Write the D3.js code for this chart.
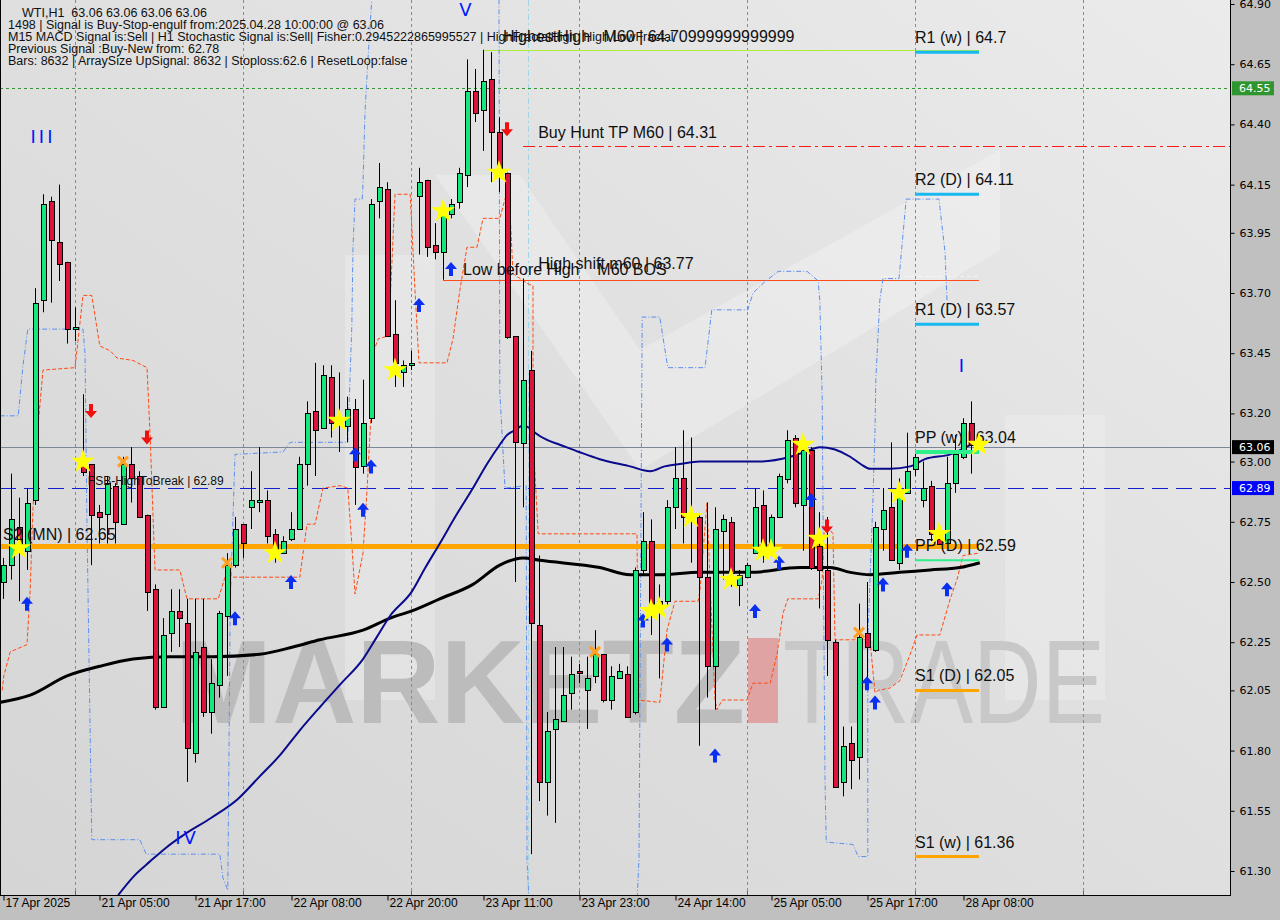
<!DOCTYPE html>
<html><head><meta charset="utf-8">
<script src="https://cdn.jsdelivr.net/npm/d3@7/dist/d3.min.js"></script>
<style>body{margin:0;background:#c0c0c0;}svg{display:block}text{white-space:pre}</style>
</head><body><svg id="c" width="1280" height="920"></svg>
<script>
// ---------------- DATA ----------------
const opens  = [62.50,62.57,62.73,62.63,62.84,63.67,64.08,63.91,63.83,63.55,63.00,62.99,62.79,62.78,62.90,62.74,62.99,62.94,62.78,62.47,61.98,62.29,62.38,62.33,61.79,62.23,61.96,62.07,62.36,62.57,62.74,62.81,62.83,62.84,62.70,62.62,62.68,62.72,62.99,63.21,63.14,63.35,63.16,63.15,63.22,62.98,63.18,64.08,64.13,63.53,63.37,63.40,64.10,64.17,63.90,63.87,64.03,64.08,64.19,64.54,64.46,64.59,64.37,64.20,63.52,63.08,63.38,62.32,61.67,61.89,61.92,62.04,62.13,62.05,62.11,62.20,62.01,62.10,62.12,61.96,62.55,62.67,62.39,62.42,62.81,62.93,62.77,62.77,62.52,62.15,62.71,62.75,62.49,62.52,62.62,62.82,62.62,62.77,62.93,63.10,62.82,63.05,62.65,62.55,62.25,61.67,61.83,61.77,62.29,62.22,62.72,62.81,62.58,62.87,62.97,62.84,62.90,62.68,62.66,62.91,63.02,63.16,63.06];
const highs  = [62.60,62.95,62.85,62.89,63.72,64.11,64.10,64.15,63.83,63.64,63.28,62.99,62.82,62.94,62.91,63.02,63.06,62.96,62.78,62.49,62.35,62.47,62.47,62.43,62.43,62.43,62.18,62.38,62.62,62.77,62.74,62.96,63.06,62.88,62.72,62.69,62.79,63.02,63.25,63.41,63.40,63.40,63.37,63.27,63.26,63.34,64.09,64.24,64.16,63.67,63.42,63.46,64.22,64.17,63.99,64.04,64.09,64.22,64.67,64.63,64.71,64.70,64.43,64.20,63.52,63.76,63.46,62.61,61.96,62.23,62.23,62.19,62.16,62.19,62.30,62.20,62.15,62.16,62.15,62.56,62.79,62.76,62.49,62.84,63.06,63.13,63.10,62.78,62.83,62.81,62.78,62.77,62.55,62.58,62.89,62.88,62.78,62.95,63.13,63.11,63.08,63.06,62.79,62.77,62.26,61.90,61.90,62.41,62.50,62.75,62.89,63.08,62.93,63.12,63.05,63.00,62.92,62.74,63.02,63.11,63.18,63.25,63.06];
const lows   = [62.43,62.51,62.42,62.55,62.82,63.62,63.66,63.75,63.49,63.50,62.94,62.57,62.66,62.66,62.66,62.74,62.83,62.77,62.38,61.97,61.98,62.21,62.23,61.67,61.75,61.94,61.87,62.02,62.11,62.56,62.60,62.72,62.79,62.66,62.58,62.62,62.67,62.72,62.90,62.94,63.14,63.10,63.04,63.08,62.82,62.95,63.16,64.01,63.52,63.31,63.31,63.38,63.86,63.85,63.84,63.77,64.01,64.05,64.14,64.41,64.29,64.16,64.12,63.51,62.50,62.81,61.37,61.59,61.53,61.50,61.92,61.97,62.08,61.89,62.08,62.00,61.97,62.10,61.94,61.95,62.53,62.28,62.10,62.40,62.72,62.66,62.58,61.82,62.02,61.97,62.51,62.48,62.40,62.52,62.62,62.58,62.61,62.77,62.91,62.81,62.63,62.55,62.39,62.11,61.65,61.61,61.64,61.68,62.08,62.21,62.63,62.59,62.55,62.87,62.94,62.81,62.67,62.66,62.66,62.87,63.01,62.95,63.06];
const closes = [62.57,62.76,62.65,62.83,63.66,64.07,63.92,63.82,63.55,63.56,62.96,62.78,62.77,62.91,62.75,62.99,62.93,62.77,62.46,61.98,62.28,62.38,62.35,61.81,62.21,61.96,62.08,62.37,62.57,62.72,62.66,62.84,62.84,62.69,62.63,62.67,62.72,62.99,63.20,63.13,63.36,63.16,63.17,63.22,62.98,63.16,64.07,64.14,63.52,63.41,63.40,63.41,64.16,63.89,63.87,64.04,64.07,64.20,64.54,64.45,64.58,64.37,64.20,63.52,63.08,63.34,62.33,61.67,61.88,61.93,62.03,62.12,62.12,62.10,62.20,62.01,62.11,62.13,61.94,62.55,62.67,62.40,62.42,62.81,62.93,62.77,62.78,62.52,62.15,62.72,62.76,62.54,62.53,62.57,62.81,62.62,62.77,62.94,63.09,62.83,63.05,62.56,62.55,62.26,61.65,61.82,61.76,62.27,62.23,62.73,62.80,62.59,62.87,62.96,63.02,62.89,62.70,62.66,62.91,63.03,63.16,63.07,63.06];

// moving averages [barIndex, price]
const maBlue = [[14.4,61.20],[16.4,61.28],[18.4,61.34],[20.5,61.40],[22.6,61.45],[26,61.52],[29.4,61.60],[32,61.69],[34.6,61.78],[37,61.88],[39.6,61.98],[42.3,62.08],[45,62.18],[46.7,62.27],[48.4,62.36],[51.1,62.46],[52.8,62.56],[54.6,62.66],[56.7,62.78],[58.75,62.89],[60.5,62.99],[62.1,63.07],[63,63.11],[64,63.13],[65,63.15],[65.8,63.14],[66.5,63.12],[68,63.09],[69.6,63.07],[72,63.04],[74.6,63.01],[78.4,62.98],[80.9,62.96],[82.7,62.98],[84.6,62.99],[87.1,63.00],[90.9,63.00],[94.6,63.00],[98.4,63.02],[100.25,63.04],[102.1,63.06],[104,63.05],[105.9,63.02],[107.2,62.99],[108.4,62.97],[110.9,62.97],[113.4,62.98],[115.25,63.01],[118.4,63.03],[121.5,63.08]];
const maBlack = [[-0.4,62.00],[3.4,62.03],[8,62.11],[12.1,62.15],[16.25,62.18],[20.9,62.19],[26.25,62.19],[32.1,62.20],[36.25,62.23],[39.6,62.26],[45,62.30],[48.4,62.35],[51.1,62.38],[54.6,62.43],[58.75,62.49],[62.1,62.57],[65,62.60],[67.1,62.59],[74.6,62.56],[78.4,62.53],[82.1,62.53],[87.1,62.54],[93.4,62.54],[99.6,62.56],[103.4,62.56],[105.9,62.54],[108.4,62.53],[112.1,62.54],[115.9,62.55],[119.6,62.56],[122.1,62.58]];
// channel bands [barIndex, price]
const bandLow = [[-0.1,62.05],[0.1,62.11],[0.9,62.21],[3,62.24],[3.4,62.47],[3.75,62.81],[4.25,63.10],[5,63.38],[9,63.39],[10,63.69],[11.1,63.69],[12.1,63.48],[13.4,63.46],[14.25,63.43],[16.25,63.42],[18,63.39],[18.4,63.10],[19,62.55],[22.1,62.55],[23,62.43],[26.9,62.43],[27.75,62.52],[37.1,62.52],[38,62.74],[39,62.74],[40,62.89],[42.1,62.90],[43.1,62.89],[43.6,62.66],[44,62.45],[45,62.62],[45.5,62.88],[45.9,63.13],[46.25,63.45],[46.9,63.51],[48,63.52],[48.4,63.67],[49,64.11],[50.9,64.11],[51.5,63.71],[52,63.41],[55.5,63.41],[56.25,63.51],[57.1,63.71],[58,63.89],[59.25,63.89],[60,64.01],[62.1,64.01],[63,64.12],[63.4,64.02],[63.75,63.78],[65.5,63.74],[66.25,63.73],[66.25,63.10],[66.9,62.70],[79.25,62.70],[79.4,62.01],[82.1,62.00],[83,62.30],[84,62.42],[86.9,62.42],[87.1,62.46],[88,62.83],[88.4,62.48],[89,62.01],[89.25,61.97],[89.9,62.01],[93,62.01],[93.75,62.08],[95.9,62.08],[96.75,62.20],[97.5,62.37],[98.1,62.43],[101.9,62.43],[102.4,62.51],[102.5,62.67],[102.75,62.73],[103.1,62.73],[103.75,62.70],[104,62.26],[108,62.26],[108.4,62.25],[109,62.04],[109.4,62.05],[110.9,62.06],[112.1,62.09],[113.4,62.20],[114.25,62.28],[117.1,62.28],[118.4,62.43],[119.25,62.51],[120,62.61],[122,62.62]];
const bandHigh = [[-0.4,63.19],[1.9,63.19],[2.5,63.40],[3.1,63.55],[10,63.55],[10.25,63.45],[10.5,62.73],[10.9,61.86],[11.1,61.43],[17.1,61.43],[17.9,61.37],[27.1,61.37],[27.5,61.27],[28.1,61.22],[28.4,62.40],[29,63.03],[35,63.04],[35.9,63.08],[43.1,63.08],[43.6,63.56],[43.75,63.89],[44,64.09],[44.9,64.09],[45,64.15],[45.25,64.45],[45.6,64.66],[46.1,64.92],[47.1,65.08],[60.9,65.08],[62,64.92],[62.1,63.29],[62.75,62.89],[65.4,62.90],[65.5,61.35],[65.9,61.06],[79.1,61.06],[79.5,61.35],[79.9,63.60],[82.1,63.60],[83.1,63.39],[87.75,63.39],[88.6,63.63],[93.1,63.63],[93.75,63.70],[95,63.74],[96.9,63.79],[100.5,63.79],[101.9,63.75],[102.1,63.67],[102.4,63.26],[102.75,61.68],[102.9,61.42],[106.25,61.41],[106.9,61.36],[108.1,61.36],[108.1,62.26],[108.75,62.85],[109,63.13],[109.1,63.34],[109.6,63.67],[110,63.76],[112,63.76],[112.9,64.09],[117,64.09],[117.75,63.87],[118,63.67]];

// signal markers [barIndex, price]
const upArrows   = [[3,62.41],[29,62.35],[36,62.50],[44,63.03],[45,62.80],[46,62.98],[52,63.65],[56,63.80],[80,62.34],[83,62.24],[89,61.78],[94,62.38],[97,62.58],[101,62.84],[108,62.08],[109,62.00],[110,62.49],[113,62.63],[118,62.47]];
const downArrows = [[11,63.21],[18,63.10],[63,64.38],[103,62.73]];
const stars      = [[2,62.64],[10,63.00],[34,62.62],[42,63.17],[49,63.38],[55,64.04],[62,64.20],[81,62.38],[82,62.39],[86,62.77],[91,62.51],[95,62.63],[96,62.63],[100,63.07],[102,62.68],[112,62.87],[117,62.70],[122,63.07]];
const crosses    = [[15,63.00],[28,62.58],[74,62.21],[107,62.29]];
const waveLabels = ["III","IV","V","I"];
const waveIdx    = [5,23,58,120];
const wavePrice  = [64.35,61.44,64.88,63.40];

// pivots
const pivotNames  = ["R1 (w)","R2 (D)","R1 (D)","PP (w)","PP (D)","S1 (D)","S1 (w)"];
const pivotValues = [64.7,64.11,63.57,63.04,62.59,62.05,61.36];
const pivotKinds  = ["res","res","res","pp","ppd","sup","sup"];

// levels
const s2mn = 62.65, fsbHigh = 62.89, lastPrice = 63.06, greenLevel = 64.55;
const highestHigh = 64.71, buyHuntTP = 64.31, lowBeforeHigh = 63.755, highShift = 63.77;

// axes
const yTicks = [64.90,64.65,64.40,64.15,63.95,63.70,63.45,63.20,63.00,62.75,62.50,62.25,62.05,61.80,61.55,61.30];
const xTickIdx = [0,12,24,36,48,60,72,84,96,108,120];
const xLabels = ["17 Apr 2025","21 Apr 05:00","21 Apr 17:00","22 Apr 08:00","22 Apr 20:00","23 Apr 11:00","23 Apr 23:00","24 Apr 14:00","25 Apr 05:00","25 Apr 17:00","28 Apr 08:00"];
const gridIdx = [9,30,51,72,93,114,135];

const infoLines = [
  "WTI,H1  63.06 63.06 63.06 63.06",
  "1498 | Signal is Buy-Stop-engulf from:2025.04.28 10:00:00 @ 63.06",
  "M15 MACD Signal is:Sell | H1 Stochastic Signal is:Sell| Fisher:0.2945222865995527 | HighFractalHigh  High LowFractal",
  "Previous Signal :Buy-New from: 62.78",
  "Bars: 8632 | ArraySize UpSignal: 8632 | Stoploss:62.6 | ResetLoop:false"
];

// ---------------- DRAW ----------------
const W = 1280, H = 920, PR = 1230, PB = 895;
const svg = d3.select("#c");
const xs = d3.scaleLinear().domain([0, 100]).range([3, 803]);
const ys = d3.scaleLinear().domain([61.30, 64.90]).range([871, 4]);
const FONT = "'Liberation Sans', Arial, sans-serif";

const defs = svg.append("defs");
defs.append("clipPath").attr("id","clip").append("rect").attr("x",0).attr("y",0).attr("width",PR).attr("height",PB);
const gr = defs.append("linearGradient").attr("id","bg").attr("x1","0").attr("y1","1").attr("x2","1").attr("y2","0");
gr.append("stop").attr("offset","0").attr("stop-color","#d5d5d5");
gr.append("stop").attr("offset","0.5").attr("stop-color","#dfdfdf");
gr.append("stop").attr("offset","1").attr("stop-color","#ebebeb");

svg.append("rect").attr("width",W).attr("height",H).attr("fill","#c0c0c0");
svg.append("rect").attr("x",0).attr("y",0).attr("width",PR).attr("height",PB).attr("fill","url(#bg)");

const plot = svg.append("g").attr("clip-path","url(#clip)");

// watermark logo
const wm = plot.append("g");
wm.append("path").attr("d","M345,700 L345,255 L435,255 L435,700 Z").attr("fill","#ffffff").attr("opacity",0.22);
wm.append("path").attr("d","M435,175 L520,175 L640,350 L1000,150 L1000,250 L640,470 Z").attr("fill","#ffffff").attr("opacity",0.25);
wm.append("path").attr("d","M1005,415 L1105,415 L1105,700 L1005,700 Z").attr("fill","#ffffff").attr("opacity",0.2);
wm.append("text").attr("x",175).attr("y",723).attr("textLength",570).attr("lengthAdjust","spacingAndGlyphs")
  .attr("font-family",FONT).attr("font-weight","bold").attr("font-size",118).attr("fill","#bcbcbc").text("MARKETZ");
wm.append("rect").attr("x",748).attr("y",638).attr("width",30).attr("height",85).attr("fill","#e0a3a3");
wm.append("text").attr("x",783).attr("y",723).attr("textLength",322).attr("lengthAdjust","spacingAndGlyphs")
  .attr("font-family",FONT).attr("font-size",118).attr("fill","#c8c8c8").text("TRADE");

// vertical grid
plot.selectAll("line.grid").data(gridIdx).join("line").attr("class","grid")
  .attr("x1",d=>Math.round(xs(d))+0.5).attr("x2",d=>Math.round(xs(d))+0.5).attr("y1",0).attr("y2",PB)
  .attr("stroke","#8a8a8a").attr("stroke-dasharray","3,3");

// light cyan vertical marker
plot.append("line").attr("x1",Math.round(xs(65.6))+0.5).attr("x2",Math.round(xs(65.6))+0.5).attr("y1",0).attr("y2",PB)
  .attr("stroke","#9fd6e6").attr("stroke-dasharray","6,3,2,3");

// horizontal levels
function hline(p, x1, x2, color, w, dash){
  const y = Math.round(ys(p)) + (w%2 ? 0.5 : 0);
  const l = plot.append("line").attr("x1",x1).attr("x2",x2).attr("y1",y).attr("y2",y)
    .attr("stroke",color).attr("stroke-width",w);
  if(dash) l.attr("stroke-dasharray",dash);
  return l;
}
hline(greenLevel, 0, PR, "#2e9a2e", 1, "3,3");
hline(highestHigh, xs(60), xs(122), "#a8f03a", 1);
hline(buyHuntTP, xs(65), PR, "#ff1a1a", 1, "12,4,3,4");
hline(highShift, xs(110), xs(122), "#f4f4f4", 1, "4,3");
hline(lowBeforeHigh, xs(55), xs(122), "#ff4a1a", 1);
plot.append("line").attr("x1",Math.round(xs(55))+0.5).attr("x2",Math.round(xs(55))+0.5)
  .attr("y1",ys(lowBeforeHigh)).attr("y2",ys(63.86)).attr("stroke","#000").attr("stroke-width",1);
hline(lastPrice, 0, PR, "#7a8796", 1);
hline(fsbHigh, 0, PR, "#1020d0", 1, "16,8");

// bands
const line = d3.line().x(d=>xs(d[0])).y(d=>ys(d[1]));
plot.append("path").attr("d",line(bandHigh)).attr("fill","none").attr("stroke","#5b8ff0").attr("stroke-width",1).attr("stroke-dasharray","5,2,1,2");
plot.append("path").attr("d",line(bandLow)).attr("fill","none").attr("stroke","#ff4a12").attr("stroke-width",1).attr("stroke-dasharray","4,2");

// S2 (MN) orange
hline(s2mn, 0, xs(122), "#ffa500", 5);

// MAs
const smooth = d3.line().x(d=>xs(d[0])).y(d=>ys(d[1])).curve(d3.curveMonotoneX);
plot.append("path").attr("d",smooth(maBlack)).attr("fill","none").attr("stroke","#000").attr("stroke-width",3);
plot.append("path").attr("d",smooth(maBlue)).attr("fill","none").attr("stroke","#0a0a8c").attr("stroke-width",2);

// candles
const idx = d3.range(opens.length);
const cg = plot.append("g");
cg.selectAll("line.wick").data(idx).join("line").attr("class","wick")
  .attr("x1",i=>Math.round(xs(i))+0.5).attr("x2",i=>Math.round(xs(i))+0.5)
  .attr("y1",i=>ys(highs[i])).attr("y2",i=>ys(lows[i])).attr("stroke","#000");
cg.selectAll("rect.body").data(idx).join("rect").attr("class","body")
  .attr("x",i=>Math.round(xs(i))-2+0.5).attr("width",5)
  .attr("y",i=>Math.round(ys(Math.max(opens[i],closes[i])))+0.5)
  .attr("height",i=>Math.max(1,Math.round(Math.abs(ys(opens[i])-ys(closes[i])))))
  .attr("fill",i=>closes[i]>=opens[i]?"#17e67a":"#dc143c").attr("stroke","#000").attr("stroke-width",1);

// pivots
const pivColor = {res:"#18b8f0", pp:"#2cf08a", ppd:"#2cf08a", sup:"#ffa500"};
const pivWidth = {res:3, pp:4, ppd:2, sup:3};
pivotValues.forEach((v,k)=>{
  const y = ys(v);
  plot.append("line").attr("x1",xs(114)).attr("x2",xs(122)).attr("y1",y).attr("y2",y)
    .attr("stroke",pivColor[pivotKinds[k]]).attr("stroke-width",pivWidth[pivotKinds[k]]);
  plot.append("text").attr("x",xs(114)).attr("y",y-9).attr("font-family",FONT).attr("font-size",16)
    .attr("fill","#101010").text(pivotNames[k]+" | "+v);
});

// markers
const upPath = "M0,-7 L6,0 L2,0 L2,7 L-2,7 L-2,0 L-6,0 Z";
const dnPath = "M0,7 L6,0 L2,0 L2,-7 L-2,-7 L-2,0 L-6,0 Z";
plot.selectAll("path.up").data(upArrows).join("path").attr("class","up").attr("d",upPath)
  .attr("transform",d=>`translate(${xs(d[0])},${ys(d[1])})`).attr("fill","#0a2ff0");
plot.selectAll("path.dn").data(downArrows).join("path").attr("class","dn").attr("d",dnPath)
  .attr("transform",d=>`translate(${xs(d[0])},${ys(d[1])})`).attr("fill","#f01010");
const starSym = d3.symbol().type(d3.symbolStar).size(180);
plot.selectAll("path.star").data(stars).join("path").attr("class","star").attr("d",starSym)
  .attr("transform",d=>`translate(${xs(d[0])},${ys(d[1])})`).attr("fill","#ffff00");
plot.selectAll("g.cross").data(crosses).join("g").attr("class","cross")
  .attr("transform",d=>`translate(${xs(d[0])},${ys(d[1])})`)
  .each(function(){
    const g = d3.select(this);
    g.append("line").attr("x1",-5).attr("y1",-5).attr("x2",5).attr("y2",5).attr("stroke","#ffa020").attr("stroke-width",3);
    g.append("line").attr("x1",-5).attr("y1",5).attr("x2",5).attr("y2",-5).attr("stroke","#ffa020").attr("stroke-width",3);
  });
waveLabels.forEach((t,k)=>{
  plot.append("text").attr("x",xs(waveIdx[k])).attr("y",ys(wavePrice[k])+7).attr("text-anchor","middle")
    .attr("font-family","'DejaVu Sans', sans-serif").attr("font-size",18).attr("letter-spacing",3)
    .attr("fill","#0018ff").text(t);
});

// annotation texts
const tx = (x,y,s,t,fill)=>plot.append("text").attr("x",x).attr("y",y).attr("font-family",FONT)
  .attr("font-size",s).attr("fill",fill||"#101010").text(t);
tx(xs(62.5), ys(highestHigh)-8, 16, "HighestHigh   M60 | 64.70999999999999");
tx(xs(66.9), ys(buyHuntTP)-8, 16, "Buy Hunt TP M60 | "+buyHuntTP);
tx(xs(66.9), ys(highShift)-7, 16, "High shift m60 | "+highShift);
tx(xs(57.5), ys(lowBeforeHigh)-5, 16, "Low before High    M60 BOS");
tx(xs(10.6), ys(fsbHigh)-3, 12, "FSB-HighToBreak | "+fsbHigh);
tx(xs(0), ys(s2mn)-6, 16, "S2 (MN) | "+s2mn);

// info text
infoLines.forEach((t,k)=>{
  svg.append("text").attr("x",k===0?22:8).attr("y",17+k*12.1).attr("font-family",FONT).attr("font-size",12.5)
    .attr("fill","#101010").text(t);
});

// frame
svg.append("line").attr("x1",PR+0.5).attr("x2",PR+0.5).attr("y1",0).attr("y2",PB+1).attr("stroke","#000");
svg.append("line").attr("x1",0).attr("x2",PR+1).attr("y1",PB+0.5).attr("y2",PB+0.5).attr("stroke","#000");
svg.append("line").attr("x1",0.5).attr("x2",0.5).attr("y1",0).attr("y2",PB).attr("stroke","#000");

// right axis
const ax = svg.append("g").attr("transform",`translate(${PR+0.5},0)`)
  .call(d3.axisRight(ys).tickValues(yTicks).tickSize(4).tickPadding(5).tickFormat(d3.format(".2f")));
ax.select(".domain").remove();
ax.selectAll("line").attr("stroke","#000");
ax.selectAll("text").attr("font-family","'DejaVu Sans', sans-serif").attr("font-size",11).attr("fill","#000");

// price tags
function tag(p, bg){
  const y = ys(p);
  svg.append("rect").attr("x",PR+2).attr("y",y-7).attr("width",42).attr("height",14).attr("fill",bg);
  svg.append("text").attr("x",PR+9).attr("y",y+4).attr("font-family","'DejaVu Sans', sans-serif")
    .attr("font-size",11).attr("fill","#fff").text(p.toFixed(2));
}
tag(greenLevel, "#2f962f");
tag(lastPrice, "#000");
tag(fsbHigh, "#0000ff");

// bottom axis
const bx = svg.append("g").attr("transform",`translate(0,${PB+0.5})`)
  .call(d3.axisBottom(xs).tickValues(xTickIdx).tickSize(5).tickFormat((d,i)=>xLabels[i]));
bx.select(".domain").remove();
bx.selectAll("line").attr("stroke","#000").attr("transform","translate(0.5,0)");
bx.selectAll("text").attr("text-anchor","start").attr("dx",2).attr("dy",3)
  .attr("font-family",FONT).attr("font-size",12).attr("fill","#000");
svg.selectAll("line.gt").data(gridIdx).join("line").attr("class","gt")
  .attr("x1",d=>Math.round(xs(d))+0.5).attr("x2",d=>Math.round(xs(d))+0.5).attr("y1",PB-4).attr("y2",PB)
  .attr("stroke","#666");
</script></body></html>
